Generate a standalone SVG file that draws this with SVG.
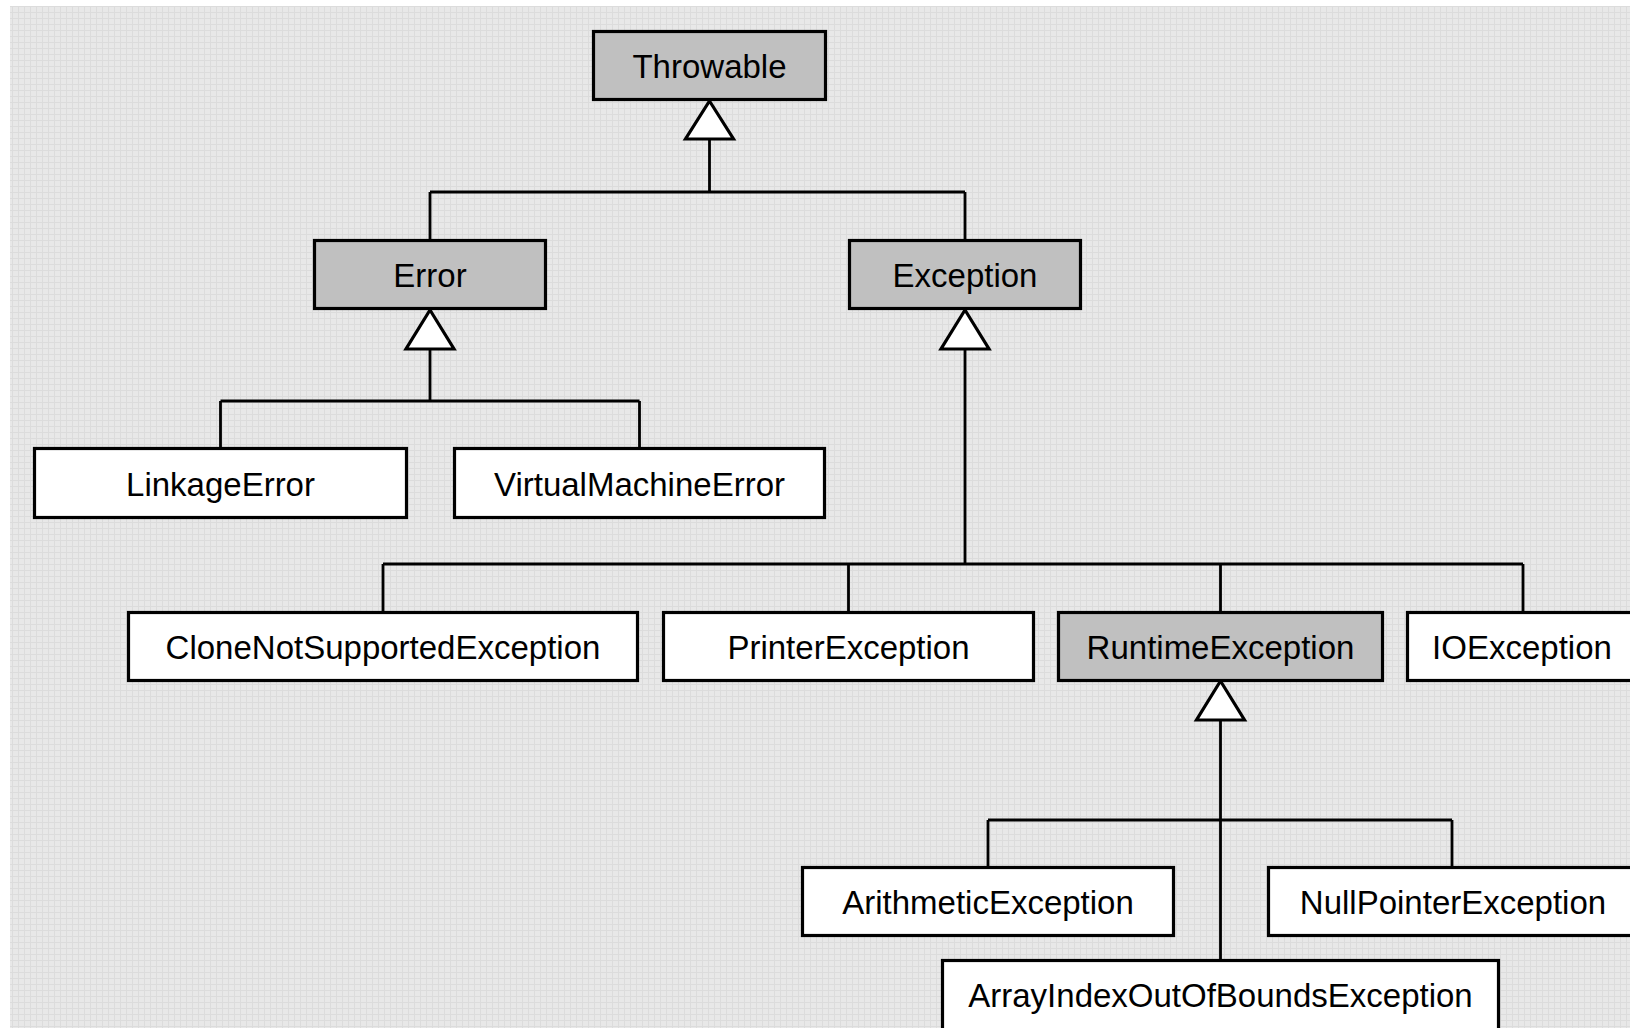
<svg xmlns="http://www.w3.org/2000/svg" width="1630" height="1028" viewBox="0 0 1630 1028">
<style>
.box{stroke:#000;stroke-width:3.2;fill:#fff}
.abs{fill:#c0c0c0}
.lbl{font-family:"Liberation Sans",Arial,sans-serif;font-size:33px;fill:#000;text-anchor:middle}
.ln{stroke:#000;stroke-width:2.8;fill:none}
.tri{stroke:#000;stroke-width:3.2;fill:#fff;stroke-linejoin:miter}
</style>
<defs>
<pattern id="grid" width="6" height="6" patternUnits="userSpaceOnUse">
<rect width="6" height="6" fill="#e8e8e8"/>
<rect x="0" y="0" width="1" height="6" fill="#dcdcdc"/>
<rect x="0" y="0" width="6" height="1" fill="#dcdcdc"/>
</pattern>
</defs>
<rect x="0" y="0" width="1630" height="1028" fill="#ffffff"/>
<rect x="10" y="6" width="1620" height="1022" fill="url(#grid)"/>
<g id="connectors">
<path class="ln" d="M709.5 139 V192 M430 192 H965 M430 192 V239 M965 192 V239"/>
<path class="ln" d="M430 349 V401 M220.5 401 H639.5 M220.5 401 V447 M639.5 401 V447"/>
<path class="ln" d="M965 349 V564 M383 564 H1523 M383 564 V611 M848.5 564 V611 M1220.5 564 V611 M1523 564 V611"/>
<path class="ln" d="M1220.5 720 V959 M988 820 H1452 M988 820 V866 M1452 820 V866"/>
<polygon class="tri" points="709.5,101 733.5,139 685.5,139"/>
<polygon class="tri" points="430,310 454,349 406,349"/>
<polygon class="tri" points="965,310 989,349 941,349"/>
<polygon class="tri" points="1220.5,681 1244.5,720 1196.5,720"/>
</g>
<g id="Throwable"><rect class="box abs" x="593.5" y="31.5" width="232" height="68"/><text class="lbl" x="709.5" y="78">Throwable</text></g>
<g id="Error"><rect class="box abs" x="314.5" y="240.5" width="231" height="68"/><text class="lbl" x="430" y="287">Error</text></g>
<g id="Exception"><rect class="box abs" x="849.5" y="240.5" width="231" height="68"/><text class="lbl" x="965" y="287">Exception</text></g>
<g id="LinkageError"><rect class="box" x="34.5" y="448.5" width="372" height="69"/><text class="lbl" x="220.5" y="496">LinkageError</text></g>
<g id="VirtualMachineError"><rect class="box" x="454.5" y="448.5" width="370" height="69"/><text class="lbl" x="639.5" y="496">VirtualMachineError</text></g>
<g id="CloneNotSupportedException"><rect class="box" x="128.5" y="612.5" width="509" height="68"/><text class="lbl" x="383" y="659">CloneNotSupportedException</text></g>
<g id="PrinterException"><rect class="box" x="663.5" y="612.5" width="370" height="68"/><text class="lbl" x="848.5" y="659">PrinterException</text></g>
<g id="RuntimeException"><rect class="box abs" x="1058.5" y="612.5" width="324" height="68"/><text class="lbl" x="1220.5" y="659">RuntimeException</text></g>
<g id="IOException"><rect class="box" x="1407.5" y="612.5" width="232" height="68"/><text class="lbl" x="1522" y="659">IOException</text></g>
<g id="ArithmeticException"><rect class="box" x="802.5" y="867.5" width="371" height="68"/><text class="lbl" x="988" y="914">ArithmeticException</text></g>
<g id="NullPointerException"><rect class="box" x="1268.5" y="867.5" width="372" height="68"/><text class="lbl" x="1453" y="914">NullPointerException</text></g>
<g id="ArrayIndexOutOfBoundsException"><rect class="box" x="942.5" y="960.5" width="556" height="70"/><text class="lbl" x="1220.5" y="1007">ArrayIndexOutOfBoundsException</text></g>
</svg>
